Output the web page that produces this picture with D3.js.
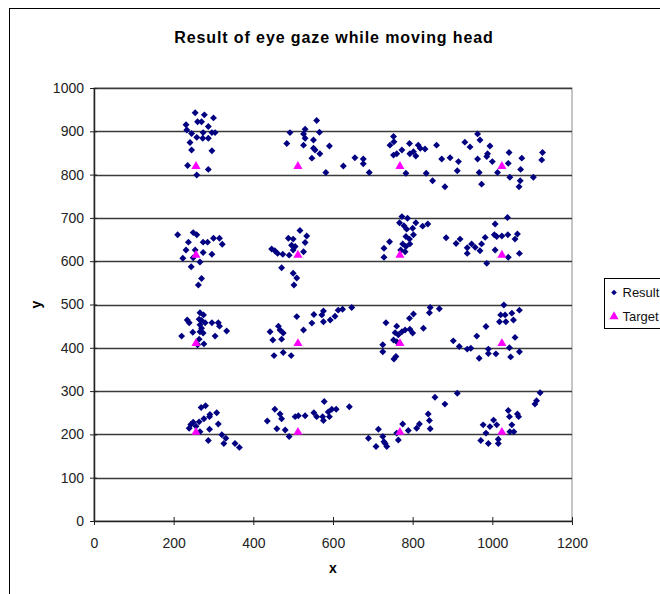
<!DOCTYPE html>
<html>
<head>
<meta charset="utf-8">
<script src="https://cdn.jsdelivr.net/npm/d3@7"></script>
<style>
  body { margin: 0; background: #fff; }
  text { font-family: "Liberation Sans", Arial, sans-serif; }
</style>
</head>
<body>
<svg width="660" height="594"></svg>
<script>
var chartTitle = "Result of eye gaze while moving head";
var xLabel = "x", yLabel = "y";
var seriesNames = ["Result", "Target"];
var xTicks = [0, 200, 400, 600, 800, 1000, 1200];
var yTicks = [0, 100, 200, 300, 400, 500, 600, 700, 800, 900, 1000];

// target positions (grid of 4 x 4)
var targetX = [256, 512, 768, 1024];
var targetY = [205, 410, 614, 819];

// measured gaze points, [x, y], grouped by target row
var resultTopRow = [
  [254,943],[277,938],[300,931],[260,922],[270,922],[231,915],[287,911],[233,903],[245,895],[274,897],[296,897],[304,897],[258,886],[273,884],[287,884],[241,874],[245,857],[296,855],[235,821],[287,812],[258,799],
  [559,925],[492,897],[530,905],[566,898],[526,894],[530,884],[484,872],[526,868],[551,880],[591,866],[551,861],[555,857],[567,848],[547,838],[582,805],[626,820],[655,839],[676,836],[676,825],[691,805],
  [752,888],[743,868],[753,876],[752,845],[760,848],[773,857],[792,872],[793,848],[802,853],[808,843],[814,868],[819,861],[831,859],[860,868],[783,803],[834,803],[850,786],[881,772],[873,836],[894,839],[915,830],[912,809],
  [931,875],[944,864],[963,894],[969,880],[994,866],[988,848],[986,842],[963,836],[1000,830],[967,805],[973,778],[1013,805],[1042,851],[1040,826],[1074,838],[1071,812],[1044,794],[1070,786],[1067,772],[1103,794],[1126,851],[1124,834]
];
var resultRow600 = [
  [210,661],[249,666],[258,661],[237,644],[274,644],[285,644],[300,653],[315,653],[322,639],[231,626],[254,626],[274,620],[296,616],[223,607],[249,608],[266,598],[244,587],[270,560],[262,545],
  [446,628],[454,624],[461,618],[474,616],[488,653],[500,651],[517,671],[534,658],[530,643],[496,637],[505,634],[500,626],[526,622],[490,614],[471,585],[500,572],[509,561],[502,545],
  [773,703],[787,699],[767,689],[778,682],[785,674],[800,676],[808,689],[802,661],[825,681],[838,686],[783,657],[792,651],[793,640],[783,634],[775,640],[742,645],[728,630],[728,609],[770,626],[781,622],
  [884,654],[909,641],[919,651],[937,631],[948,640],[957,632],[969,624],[937,618],[973,640],[982,655],[1007,686],[1005,661],[1011,657],[1024,658],[1039,661],[1038,701],[1063,663],[1057,651],[1007,626],[1040,609],[1068,618],[986,595]
];
var resultRow400 = [
  [266,481],[275,476],[264,466],[270,463],[279,458],[234,464],[239,458],[296,458],[312,458],[315,450],[266,453],[270,445],[248,436],[266,437],[274,434],[220,427],[304,427],[333,439],[264,420],[276,409],[260,407],
  [509,472],[463,450],[442,437],[467,441],[475,434],[449,418],[471,420],[526,441],[547,457],[552,477],[572,476],[576,485],[576,460],[593,464],[605,473],[613,487],[624,489],[647,493],[452,382],[475,389],[495,382],
  [733,458],[760,450],[756,435],[752,418],[760,414],[764,430],[773,437],[781,441],[793,443],[800,434],[792,468],[802,478],[827,445],[842,481],[844,493],[867,490],[725,407],[725,391],[758,380],[753,374],
  [1029,499],[1021,476],[1032,476],[1049,480],[1068,487],[1018,460],[1034,460],[1053,464],[984,449],[961,427],[1057,424],[902,416],[917,403],[937,397],[946,399],[967,376],[990,397],[990,387],[1009,386],[1043,400],[1046,379],[1068,391]
];
var resultRow200 = [
  [269,262],[280,266],[291,246],[308,250],[290,241],[276,236],[264,229],[249,228],[243,223],[256,219],[239,214],[266,206],[290,212],[312,224],[287,186],[321,199],[331,191],[326,179],[354,179],[365,170],
  [435,231],[454,258],[467,247],[471,236],[459,213],[480,210],[490,195],[505,241],[513,243],[530,243],[552,250],[559,241],[574,241],[576,232],[578,276],[588,252],[597,258],[608,258],[591,241],[641,264],
  [725,195],[728,183],[735,172],[764,187],[775,224],[789,209],[810,214],[817,224],[839,247],[842,232],[844,213],[856,286],[881,270],[912,295],[689,191],[714,212],[708,172],[731,179],[760,203],
  [971,186],[977,222],[984,203],[990,179],[994,218],[1003,233],[1011,222],[1015,189],[1015,179],[1040,255],[1043,241],[1049,222],[1044,206],[1054,206],[1063,247],[1066,241],[1107,270],[1111,278],[1120,296]
];

var svg = d3.select("svg");

var plot = { left: 94, right: 572, top: 88, bottom: 521 };

var x = d3.scaleLinear().domain([0, 1200]).range([plot.left, plot.right]);
var y = d3.scaleLinear().domain([0, 1000]).range([plot.bottom, plot.top]);

// chart area frame (runs off the right / bottom like the source)
svg.append("rect")
  .attr("x", 9.5).attr("y", 8.5)
  .attr("width", 720).attr("height", 700)
  .attr("fill", "#fff").attr("stroke", "#000").attr("stroke-width", 1);

svg.append("text")
  .attr("x", 334).attr("y", 43)
  .attr("text-anchor", "middle")
  .attr("font-size", "16px").attr("font-weight", "bold")
  .attr("letter-spacing", "0.9px")
  .text(chartTitle);

// plot area frame (grey on top / right)
svg.append("rect")
  .attr("x", plot.left).attr("y", plot.top)
  .attr("width", plot.right - plot.left).attr("height", plot.bottom - plot.top)
  .attr("fill", "none").attr("stroke", "#8c8c8c").attr("stroke-width", 1);

// gridlines
svg.append("g")
  .selectAll("line")
  .data(yTicks.filter(function(d) { return d > 0; }))
  .enter().append("line")
  .attr("x1", plot.left).attr("x2", plot.right)
  .attr("y1", function(d) { return Math.round(y(d)) + 0.5; })
  .attr("y2", function(d) { return Math.round(y(d)) + 0.5; })
  .attr("stroke", "#3a3a3a").attr("stroke-width", 1.3);

// axes with cross ticks
var xAxis = svg.append("g")
  .attr("transform", "translate(0," + plot.bottom + ")")
  .call(d3.axisBottom(x).tickValues(xTicks).tickFormat(d3.format("d")).tickSize(4).tickSizeOuter(0));
xAxis.selectAll(".tick line").attr("y1", -4).attr("stroke", "#222");
xAxis.select(".domain").attr("stroke", "#222").attr("stroke-width", 1.5);
xAxis.selectAll("text").attr("font-size", "14px").attr("fill", "#222").attr("dy", "1.4em");

var yAxis = svg.append("g")
  .attr("transform", "translate(" + plot.left + ",0)")
  .call(d3.axisLeft(y).tickValues(yTicks).tickFormat(d3.format("d")).tickSize(4).tickSizeOuter(0));
yAxis.selectAll(".tick line").attr("x1", 3).attr("stroke", "#222");
yAxis.select(".domain").attr("stroke", "#222").attr("stroke-width", 1.5);
yAxis.selectAll("text").attr("font-size", "14px").attr("fill", "#222").attr("x", -10);

svg.append("text")
  .attr("x", (plot.left + plot.right) / 2).attr("y", 573)
  .attr("text-anchor", "middle")
  .attr("font-size", "14px").attr("font-weight", "bold")
  .text(xLabel);

svg.append("text")
  .attr("transform", "translate(41," + (plot.top + plot.bottom) / 2 + ") rotate(-90)")
  .attr("text-anchor", "middle")
  .attr("font-size", "14px").attr("font-weight", "bold")
  .text(yLabel);

var diamond = d3.symbol().type(d3.symbolSquare).size(24);
var triangle = d3.symbol().type(d3.symbolTriangle).size(36);

var results = resultTopRow.concat(resultRow600, resultRow400, resultRow200);

svg.append("g")
  .selectAll("path")
  .data(results)
  .enter().append("path")
  .attr("d", diamond)
  .attr("transform", function(d) { return "translate(" + x(d[0]) + "," + y(d[1]) + ") rotate(45)"; })
  .attr("fill", "#000080");

var targets = [];
targetY.forEach(function(ty) {
  targetX.forEach(function(tx) { targets.push([tx, ty]); });
});

svg.append("g")
  .selectAll("path")
  .data(targets)
  .enter().append("path")
  .attr("d", triangle)
  .attr("transform", function(d) { return "translate(" + x(d[0]) + "," + y(d[1]) + ")"; })
  .attr("fill", "#ff00ff");

// legend
var legend = svg.append("g").attr("transform", "translate(604.5,278.5)");
legend.append("rect")
  .attr("width", 80).attr("height", 50)
  .attr("fill", "#fff").attr("stroke", "#000");
legend.append("path")
  .attr("d", d3.symbol().type(d3.symbolSquare).size(16))
  .attr("transform", "translate(9.5,14) rotate(45)")
  .attr("fill", "#000080");
legend.append("path")
  .attr("d", triangle)
  .attr("transform", "translate(9.5,38)")
  .attr("fill", "#ff00ff");
legend.selectAll("text.lbl")
  .data(seriesNames)
  .enter().append("text")
  .attr("class", "lbl")
  .attr("x", 18)
  .attr("y", function(d, i) { return 18 + i * 24; })
  .attr("font-size", "13px").attr("fill", "#111")
  .text(function(d) { return d; });
</script>
</body>
</html>
